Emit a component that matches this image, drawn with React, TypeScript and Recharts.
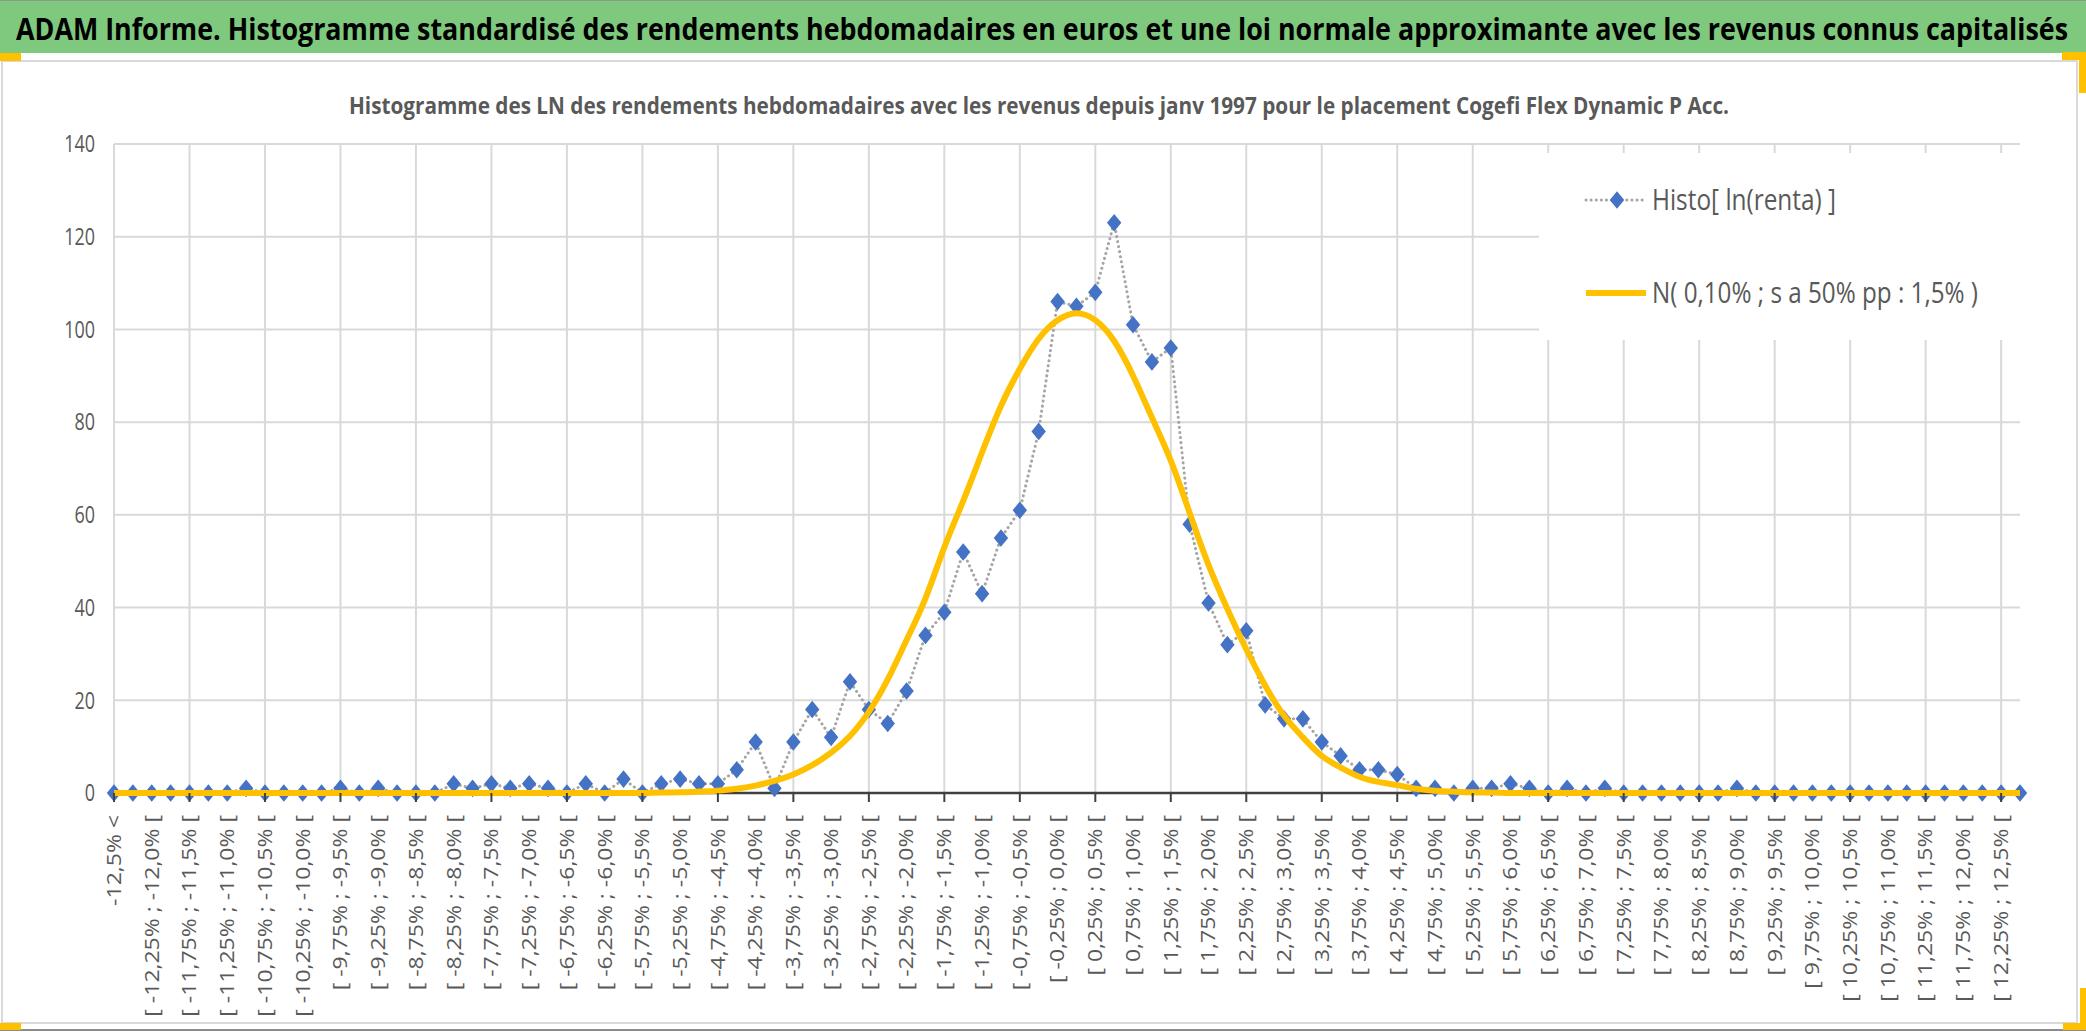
import React from 'react';
import { LineChart, Line, XAxis, YAxis, CartesianGrid, Legend } from 'recharts';

const categories = [
  '-12,5% <',
  '[ -12,5% ; -12,25% [', '[ -12,25% ; -12,0% [', '[ -12,0% ; -11,75% [', '[ -11,75% ; -11,5% [',
  '[ -11,5% ; -11,25% [', '[ -11,25% ; -11,0% [', '[ -11,0% ; -10,75% [', '[ -10,75% ; -10,5% [',
  '[ -10,5% ; -10,25% [', '[ -10,25% ; -10,0% [', '[ -10,0% ; -9,75% [', '[ -9,75% ; -9,5% [',
  '[ -9,5% ; -9,25% [', '[ -9,25% ; -9,0% [', '[ -9,0% ; -8,75% [', '[ -8,75% ; -8,5% [',
  '[ -8,5% ; -8,25% [', '[ -8,25% ; -8,0% [', '[ -8,0% ; -7,75% [', '[ -7,75% ; -7,5% [',
  '[ -7,5% ; -7,25% [', '[ -7,25% ; -7,0% [', '[ -7,0% ; -6,75% [', '[ -6,75% ; -6,5% [',
  '[ -6,5% ; -6,25% [', '[ -6,25% ; -6,0% [', '[ -6,0% ; -5,75% [', '[ -5,75% ; -5,5% [',
  '[ -5,5% ; -5,25% [', '[ -5,25% ; -5,0% [', '[ -5,0% ; -4,75% [', '[ -4,75% ; -4,5% [',
  '[ -4,5% ; -4,25% [', '[ -4,25% ; -4,0% [', '[ -4,0% ; -3,75% [', '[ -3,75% ; -3,5% [',
  '[ -3,5% ; -3,25% [', '[ -3,25% ; -3,0% [', '[ -3,0% ; -2,75% [', '[ -2,75% ; -2,5% [',
  '[ -2,5% ; -2,25% [', '[ -2,25% ; -2,0% [', '[ -2,0% ; -1,75% [', '[ -1,75% ; -1,5% [',
  '[ -1,5% ; -1,25% [', '[ -1,25% ; -1,0% [', '[ -1,0% ; -0,75% [', '[ -0,75% ; -0,5% [',
  '[ -0,5% ; -0,25% [', '[ -0,25% ; 0,0% [', '[ 0,0% ; 0,25% [', '[ 0,25% ; 0,5% [',
  '[ 0,5% ; 0,75% [', '[ 0,75% ; 1,0% [', '[ 1,0% ; 1,25% [', '[ 1,25% ; 1,5% [',
  '[ 1,5% ; 1,75% [', '[ 1,75% ; 2,0% [', '[ 2,0% ; 2,25% [', '[ 2,25% ; 2,5% [',
  '[ 2,5% ; 2,75% [', '[ 2,75% ; 3,0% [', '[ 3,0% ; 3,25% [', '[ 3,25% ; 3,5% [',
  '[ 3,5% ; 3,75% [', '[ 3,75% ; 4,0% [', '[ 4,0% ; 4,25% [', '[ 4,25% ; 4,5% [',
  '[ 4,5% ; 4,75% [', '[ 4,75% ; 5,0% [', '[ 5,0% ; 5,25% [', '[ 5,25% ; 5,5% [',
  '[ 5,5% ; 5,75% [', '[ 5,75% ; 6,0% [', '[ 6,0% ; 6,25% [', '[ 6,25% ; 6,5% [',
  '[ 6,5% ; 6,75% [', '[ 6,75% ; 7,0% [', '[ 7,0% ; 7,25% [', '[ 7,25% ; 7,5% [',
  '[ 7,5% ; 7,75% [', '[ 7,75% ; 8,0% [', '[ 8,0% ; 8,25% [', '[ 8,25% ; 8,5% [',
  '[ 8,5% ; 8,75% [', '[ 8,75% ; 9,0% [', '[ 9,0% ; 9,25% [', '[ 9,25% ; 9,5% [',
  '[ 9,5% ; 9,75% [', '[ 9,75% ; 10,0% [', '[ 10,0% ; 10,25% [', '[ 10,25% ; 10,5% [',
  '[ 10,5% ; 10,75% [', '[ 10,75% ; 11,0% [', '[ 11,0% ; 11,25% [', '[ 11,25% ; 11,5% [',
  '[ 11,5% ; 11,75% [', '[ 11,75% ; 12,0% [', '[ 12,0% ; 12,25% [', '[ 12,25% ; 12,5% [',
  '12,5% <=',
];

// weekly counts per bin
const histoCounts = [
  0, 0, 0, 0, 0, 0, 0, 1, 0, 0,
  0, 0, 1, 0, 1, 0, 0, 0, 2, 1,
  2, 1, 2, 1, 0, 2, 0, 3, 0, 2,
  3, 2, 2, 5, 11, 1, 11, 18, 12, 24,
  18, 15, 22, 34, 39, 52, 43, 55, 61, 78,
  106, 105, 108, 123, 101, 93, 96, 58, 41, 32,
  35, 19, 16, 16, 11, 8, 5, 5, 4, 1,
  1, 0, 1, 1, 2, 1, 0, 1, 0, 1,
  0, 0, 0, 0, 0, 0, 1, 0, 0, 0,
  0, 0, 0, 0, 0, 0, 0, 0, 0, 0,
  0, 0,
];

// normal curve
const normalFit = [
  0, 0, 0, 0, 0, 0, 0, 0, 0, 0,
  0, 0, 0, 0, 0, 0, 0, 0, 0, 0,
  0, 0, 0, 0, 0, 0, 0, 0, 0, 0.1,
  0.15, 0.3, 0.5, 0.9, 1.6, 2.6, 4.0, 6.0, 8.7, 12.3,
  17.5, 24.5, 33, 42, 53, 63, 73.5, 83.5, 91.5, 98,
  102, 103.5, 102, 97.5, 90, 81, 71.7, 60.4, 49.2, 39.7,
  31, 23.2, 16.7, 12, 8, 5.5, 3.5, 2.4, 1.7, 0.9,
  0.5, 0.3, 0.15, 0.1, 0, 0, 0, 0, 0, 0,
  0, 0, 0, 0, 0, 0, 0, 0, 0, 0,
  0, 0, 0, 0, 0, 0, 0, 0, 0, 0,
  0, 0,
];

const yTicks = [0, 20, 40, 60, 80, 100, 120, 140];

const histoName = 'Histo[ ln(renta) ]';
const normalName = 'N( 0,10% ; s a 50% pp : 1,5% )';
const title = 'ADAM Informe. Histogramme standardisé des rendements hebdomadaires en euros et une loi normale approximante avec les revenus connus capitalisés';
const subtitle = 'Histogramme des LN des rendements hebdomadaires avec les revenus depuis janv 1997 pour le placement Cogefi Flex Dynamic P Acc.';

const rows = categories.map((cat, i) => ({ cat, histo: histoCounts[i], normal: normalFit[i] }));

const FONT = "'Open Sans', sans-serif";
const GREY_TEXT = '#595959';
const BLUE = '#4472C4';
const GOLD = '#FFC000';

const diamond = (cx: number, cy: number) =>
  `M${cx},${cy - 8.8} L${cx + 7.2},${cy} L${cx},${cy + 8.8} L${cx - 7.2},${cy} Z`;

const DiamondDot = (props: any) => {
  const { cx, cy, index } = props;
  if (cx == null || cy == null) return <g key={`e${index}`} />;
  return <path key={`d${index}`} d={diamond(cx, cy)} fill={BLUE} />;
};

const XTick = (props: any) => {
  const { x, y, payload, index } = props;
  return (
    <g>
      {index % 4 === 0 && <line x1={x} x2={x} y1={y} y2={y + 9} stroke="#404040" strokeWidth={2} />}
      {index % 2 === 0 && (
        <g transform={`translate(${x},${y + 22}) scale(0.85,1) rotate(-90)`}>
          <text textAnchor="end" dy="0.35em" fontSize={23} fontFamily={FONT} fill={GREY_TEXT}>
            {payload.value}
          </text>
        </g>
      )}
    </g>
  );
};

const YTick = (props: any) => {
  const { x, y, payload } = props;
  return (
    <g transform={`translate(${x},${y}) scale(0.78,1)`}>
      <text textAnchor="end" dy="0.36em" fontSize={23} fontFamily={FONT} fill={GREY_TEXT}>
        {payload.value}
      </text>
    </g>
  );
};

const legendWidths = [184, 326];

const LegendBox = (props: any) => {
  const items = props.payload || [];
  return (
    <svg width={491} height={187} style={{ display: 'block' }}>
      {items.map((item: any, i: number) => {
        const cy = i === 0 ? 47 : 140;
        return (
          <g key={item.value}>
            {i === 0 ? (
              <>
                <line x1={47} x2={105} y1={cy} y2={cy} stroke="#A5A5A5" strokeWidth={3}
                  strokeDasharray="0.1 5" strokeLinecap="round" />
                <path d={diamond(78, cy)} fill={BLUE} />
              </>
            ) : (
              <line x1={47} x2={107} y1={cy} y2={cy} stroke={GOLD} strokeWidth={6} />
            )}
            <text transform={`translate(113,${cy + 10}) scale(1,1.2)`} fontSize={24} fontFamily={FONT}
              fill={GREY_TEXT} textLength={legendWidths[i]} lengthAdjust="spacingAndGlyphs">
              {item.value}
            </text>
          </g>
        );
      })}
    </svg>
  );
};

// vertical gridlines on every 4th category
const gridX = (props: any) => {
  const { xAxis, offset } = props || {};
  const picked = categories.filter((_, i) => i % 4 === 0);
  const s = xAxis && xAxis.scale;
  if (typeof s === 'function') {
    const pts = picked.map((c) => s(c)).filter((v: any) => typeof v === 'number' && !isNaN(v));
    if (pts.length) return pts;
  }
  if (s && typeof s.map === 'function') {
    const pts = picked.map((c) => s.map(c)).filter((v: any) => typeof v === 'number' && !isNaN(v));
    if (pts.length) return pts;
  }
  if (offset) {
    const step = offset.width / (categories.length - 1);
    return categories.map((_, i) => i).filter((i) => i % 4 === 0).map((i) => offset.left + i * step);
  }
  return [];
};

const App: React.FC = () => {
  return (
    <div style={{ position: 'absolute', left: 0, top: 0, width: 2086, height: 1032, background: '#fff', overflow: 'hidden' }}>
      <svg width={2086} height={1032} style={{ position: 'absolute', left: 0, top: 0 }}>
        <rect x={0} y={0} width={2086} height={53} fill="#7EC97D" />
        <line x1={0} x2={2086} y1={0.5} y2={0.5} stroke="#8a9a8a" strokeWidth={1} />
        <text transform="translate(16,40) scale(1,1.16)" fontSize={26} fontWeight={700} fontFamily={FONT} fill="#000"
          textLength={2052} lengthAdjust="spacingAndGlyphs">
          {title}
        </text>
        <rect x={2} y={61} width={2075} height={962} fill="none" stroke="#d9d9d9" strokeWidth={2} />
        <line x1={0} x2={2086} y1={1030} y2={1030} stroke="#8c8c8c" strokeWidth={2} />
        <rect x={0} y={53} width={21} height={8} fill={GOLD} />
        <rect x={2062} y={52} width={24} height={8} fill={GOLD} />
        <rect x={2079} y={52} width={7} height={41} fill={GOLD} />
        <rect x={0} y={1023} width={21} height={7} fill={GOLD} />
        <rect x={2080} y={988} width={6} height={42} fill={GOLD} />
        <rect x={2063} y={1023} width={23} height={7} fill={GOLD} />
        <text transform="translate(349,114) scale(1,1.2)" fontSize={19} fontWeight={700} fontFamily={FONT}
          fill={GREY_TEXT} textLength={1380} lengthAdjust="spacingAndGlyphs">
          {subtitle}
        </text>
      </svg>
      <div style={{ position: 'absolute', left: 0, top: 0 }}>
        <LineChart width={2086} height={1032} data={rows} margin={{ top: 144, right: 66, bottom: 0, left: 0 }}>
          <CartesianGrid stroke="#d9d9d9" strokeWidth={2} verticalCoordinatesGenerator={gridX} />
          <XAxis
            dataKey="cat"
            interval={0}
            height={239}
            tickSize={0}
            tickMargin={0}
            tickLine={false}
            axisLine={{ stroke: '#404040', strokeWidth: 2.5 }}
            tick={<XTick />}
          />
          <YAxis
            domain={[0, 140]}
            ticks={yTicks}
            interval={0}
            width={114}
            tickSize={0}
            tickMargin={19}
            axisLine={false}
            tickLine={false}
            tick={<YTick />}
          />
          <Legend
            layout="horizontal"
            verticalAlign="middle"
            align="center"
            content={<LegendBox />}
            wrapperStyle={{ position: 'absolute', left: 1539, top: 153, width: 491, height: 187, background: '#fff' }}
          />
          <Line
            name={histoName}
            dataKey="histo"
            type="linear"
            stroke="#A5A5A5"
            strokeWidth={3}
            strokeDasharray="0.1 5"
            strokeLinecap="round"
            dot={DiamondDot}
            activeDot={false}
            isAnimationActive={false}
            zIndex={600}
          />
          <Line
            name={normalName}
            dataKey="normal"
            type="natural"
            stroke={GOLD}
            strokeWidth={6}
            dot={false}
            activeDot={false}
            isAnimationActive={false}
            zIndex={610}
          />
        </LineChart>
      </div>
    </div>
  );
};

export default App;
